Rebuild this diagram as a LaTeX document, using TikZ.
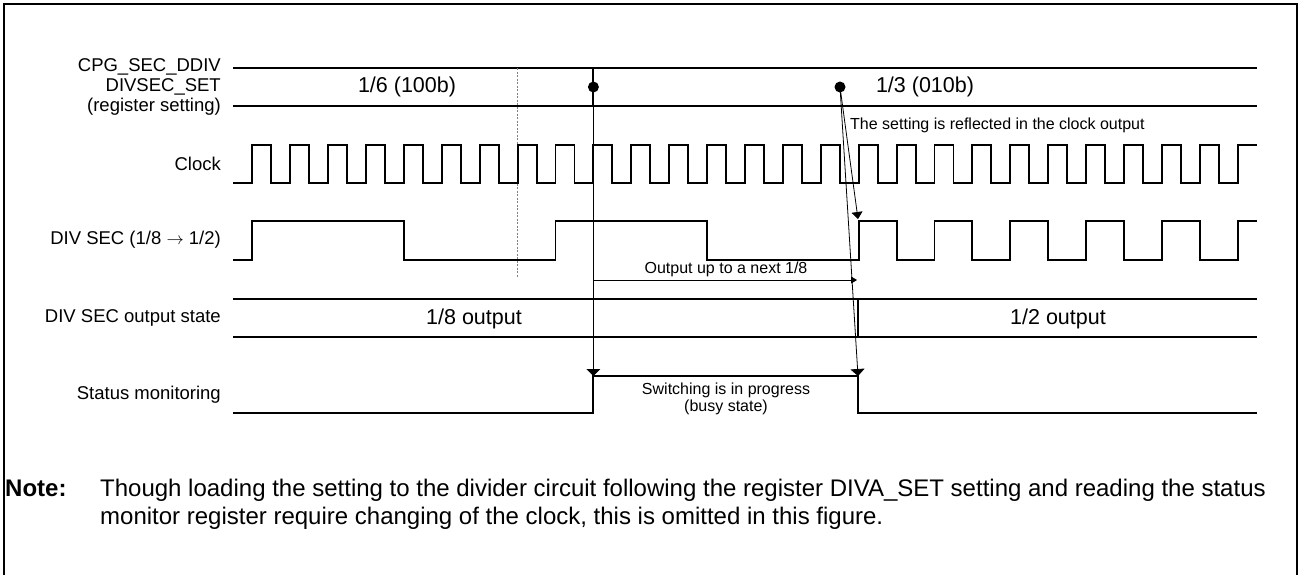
\documentclass[tikz,border=0pt]{standalone}
\usepackage{fontspec}
\setmainfont{Liberation Sans}
\usetikzlibrary{arrows.meta}
\begin{document}
\begin{tikzpicture}[x=1pt,y=-1pt,
  wave/.style={line width=1.9pt, line join=miter},
  thinline/.style={line width=0.8pt},
  lbl/.style={anchor=east, inner sep=0pt, font=\fontsize{18.5}{20}\selectfont, align=right},
  val/.style={inner sep=0pt, font=\fontsize{21.5}{24}\selectfont},
  small/.style={inner sep=0pt, font=\fontsize{16}{17}\selectfont, align=center},
  notefont/.style={anchor=base west, inner sep=0pt, font=\fontsize{24}{28}\selectfont},
  bigtip/.style={-{Triangle[width=14pt,length=7pt]}},
  midtip/.style={-{Triangle[width=11pt,length=7pt]}},
  smalltip/.style={-{Triangle[width=7pt,length=6pt]}},
  dotmark/.style={circle, fill=black, inner sep=0pt, minimum size=11pt}
]
\useasboundingbox (0,0) rectangle (1300,574);
% frame
\draw[line width=2pt] (4,580) -- (4,4) -- (1297,4) -- (1297,580);

% labels
\node[lbl] (lreg) at (221,87) {CPG\_SEC\_DDIV\\DIVSEC\_SET\\(register setting)};
\node[lbl] (lclk) at (221,164) {Clock};
\node[lbl] (ldiv) at (221,240) {DIV SEC (1/8 $\rightarrow$ 1/2)};
\node[lbl] (lout) at (221,318) {DIV SEC output state};
\node[lbl] (lst) at (221,395) {Status monitoring};

% register setting band
\draw[wave] (233,68) -- (1257,68);
\draw[wave] (233,106) -- (1257,106);
\draw[wave] (593.4,68) -- (593.4,106);
\node[val] (v1) at (407,87) {1/6 (100b)};
\node[val] (v2) at (925,87) {1/3 (010b)};

% dotted marker
\draw[gray, line width=0.8pt, dash pattern=on 2pt off 1.5pt] (517.6,68) -- (517.6,278);

% clock
\draw[wave] (233,183) \foreach \k in {0,...,25} { -- ({252.3+37.9*\k},183) -- ++(0,-38) -- ++(18.95,0) -- ++(0,38) } -- (1237.7,183) -- ++(0,-38) -- (1257,145);

% DIV SEC
\draw[wave] (233,260) -- (252.3,260) -- (252.3,221) -- (403.9,221) -- (403.9,260) -- (555.5,260) -- (555.5,221) -- (707.1,221) -- (707.1,260) -- (858,260)
  \foreach \k in {16,18,...,24} { -- ({252.3+37.9*\k},260) -- ++(0,-39) -- ({252.3+37.9*(\k+1)},221) -- ++(0,39) } -- (1237.7,260) -- (1237.7,221) -- (1257,221);

% DIV SEC output state
\draw[wave] (233,299) -- (1257,299);
\draw[wave] (233,337) -- (1257,337);
\draw[wave] (858,299) -- (858,337);
\node[val] (o1) at (474,319) {1/8 output};
\node[val] (o2) at (1058,319) {1/2 output};

% status monitoring
\draw[wave] (233,413) -- (593.4,413) -- (593.4,376) -- (858,376) -- (858,413) -- (1257,413);

% markers and arrows
\node[dotmark] (dot1) at (593.4,87) {};
\node[dotmark] (dot2) at (840,87) {};
\coordinate (st1) at (593.4,376);
\coordinate (st2) at (858,376);
\coordinate (divrise) at (858,219);
\coordinate (uptoA) at (593.4,280);
\coordinate (uptoB) at (857,280);
\draw[thinline,bigtip] (dot1.center) -- (st1);
\draw[thinline,bigtip] (dot2.center) -- (st2);
\draw[thinline,midtip] (dot2.center) -- (divrise);
\draw[thinline,smalltip] (uptoA) -- (uptoB);

\node[small, anchor=west] (refl) at (850,125) {The setting is reflected in the clock output};
\node[small] (upto) at (726,269) {Output up to a next 1/8};
\node[small] (busy) at (726,399) {Switching is in progress\\(busy state)};

% note
\node[notefont, font=\bfseries\fontsize{24}{28}\selectfont] (note) at (5,496) {Note:};
\node[notefont] (note1) at (100,496) {Though loading the setting to the divider circuit following the register DIVA\_SET setting and reading the status};
\node[notefont] (note2) at (100,524) {monitor register require changing of the clock, this is omitted in this figure.};
\end{tikzpicture}
\end{document}
